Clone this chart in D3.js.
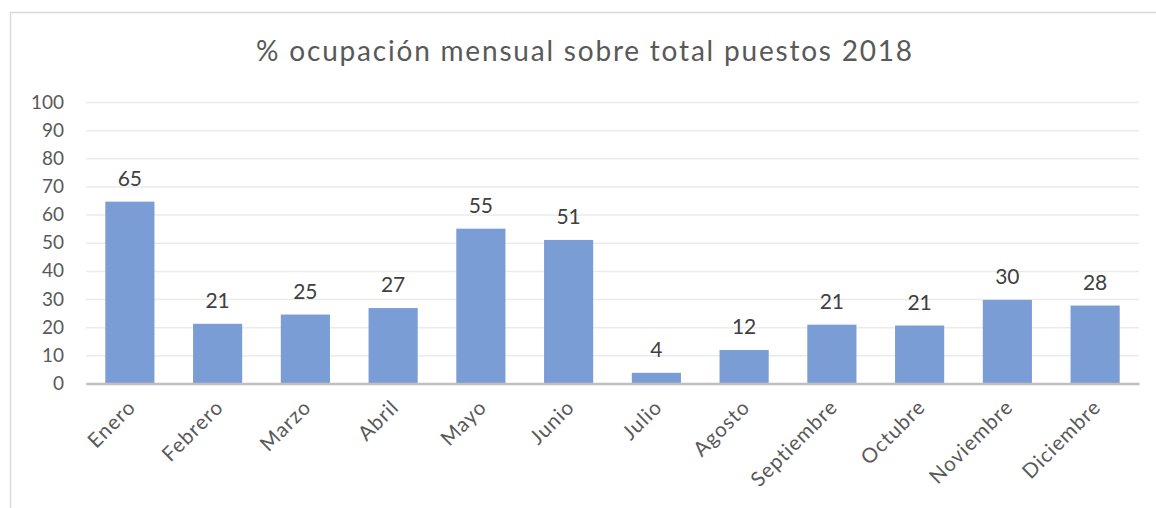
<!DOCTYPE html>
<html><head><meta charset="utf-8">
<script src="https://cdn.jsdelivr.net/npm/d3@7"></script>
<style>body{margin:0;background:#fff}svg{display:block}</style>
</head><body>
<svg id="c" width="1156" height="508"></svg>
<script>
const months = ["Enero","Febrero","Marzo","Abril","Mayo","Junio","Julio","Agosto","Septiembre","Octubre","Noviembre","Diciembre"];
const values = [64.6,21.2,24.5,26.8,55,51,3.8,11.9,20.9,20.6,29.7,27.7];
const yTicks = [0,10,20,30,40,50,60,70,80,90,100];
const title = "% ocupación mensual sobre total puestos 2018";

const svg = d3.select("#c");
const font = "Lato, 'Open Sans', sans-serif";
svg.append("rect").attr("x",10.5).attr("y",12.5).attr("width",1160).attr("height",520)
  .attr("fill","#fff").attr("stroke","#d9d9d9").attr("stroke-width",1.5);

const m = {l:86, r:1139, t:102, b:383.5};
const x = d3.scaleBand().domain(months).range([m.l,m.r]).paddingInner(0.44).paddingOuter(0.22);
const y = d3.scaleLinear().domain([0,100]).range([m.b,m.t]);

svg.append("text").attr("x",585).attr("y",61).attr("text-anchor","middle")
  .attr("font-family",font).attr("font-size",28).attr("fill","#595959").attr("letter-spacing",1.8).text(title);

const gy = svg.append("g").attr("transform",`translate(${m.l},0)`)
  .call(d3.axisLeft(y).tickValues(yTicks).tickSize(-(m.r-m.l)).tickPadding(22));
gy.select(".domain").remove();
gy.selectAll(".tick line").attr("stroke","#ebebeb").attr("stroke-width",1.5);
gy.selectAll(".tick text").attr("font-family",font).attr("font-size",19).attr("fill","#595959");

svg.append("g").selectAll("rect").data(values).join("rect")
  .attr("x",(d,i)=>x(months[i])).attr("width",x.bandwidth())
  .attr("y",d=>y(d)).attr("height",d=>y(0)-y(d)).attr("fill","#7a9dd6");

const gx = svg.append("g").attr("transform",`translate(0,${m.b})`)
  .call(d3.axisBottom(x).tickSize(0).tickPadding(0));
gx.select(".domain").attr("stroke","#bfbfbf").attr("stroke-width",2.5);
gx.selectAll(".tick text").attr("font-family",font).attr("font-size",20.5).attr("fill","#595959")
  .attr("letter-spacing",1).attr("text-anchor","end").attr("dy",0).attr("transform","translate(7,25) rotate(-45)");

svg.append("g").selectAll("text").data(values).join("text")
  .attr("x",(d,i)=>x(months[i])+x.bandwidth()/2).attr("y",d=>y(d)-16)
  .attr("text-anchor","middle").attr("font-family",font).attr("font-size",21).attr("fill","#404040")
  .text(d=>d3.format(".0f")(d));
</script>
</body></html>
